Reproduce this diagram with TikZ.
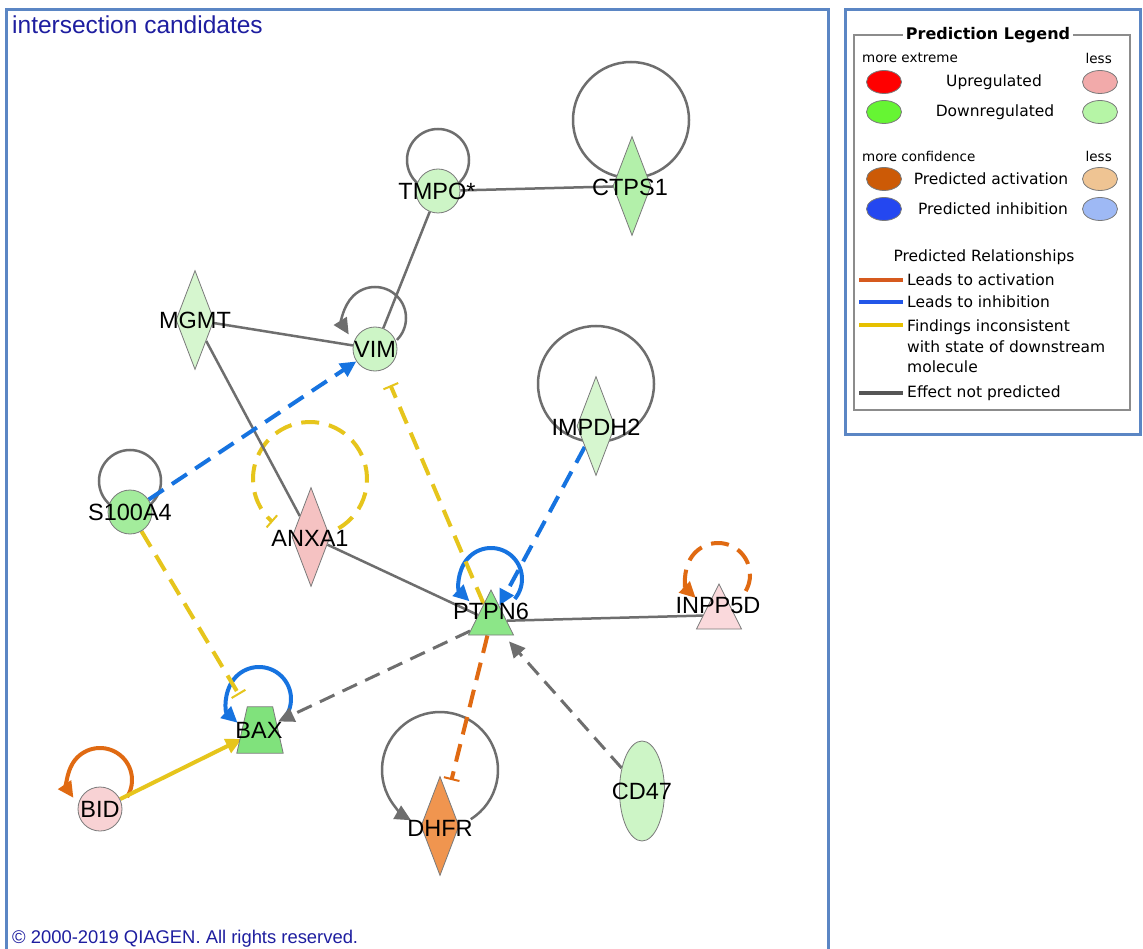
\documentclass[tikz,border=0pt]{standalone}
\usepackage{fontspec}
\setmainfont{Liberation Sans}
\newfontfamily\legendfont{DejaVu Sans}
\usetikzlibrary{shapes.geometric,arrows.meta}

\definecolor{frameblue}{HTML}{5B86C4}
\definecolor{titleblue}{HTML}{1E1EA0}
\definecolor{edgegray}{HTML}{6E6E6E}
\definecolor{nodegray}{HTML}{7A7A7A}
\definecolor{inhblue}{HTML}{1673E0}
\definecolor{incyellow}{HTML}{E6C51C}
\definecolor{actorange}{HTML}{E06A12}
\definecolor{gpale}{HTML}{CDF5C6}
\definecolor{gpaler}{HTML}{D6F6CF}
\definecolor{gmid}{HTML}{B3F0AA}
\definecolor{gs100}{HTML}{A3EC9C}
\definecolor{gbright}{HTML}{8CE688}
\definecolor{gbax}{HTML}{80E27C}
\definecolor{anxpink}{HTML}{F5C2C2}
\definecolor{bidpink}{HTML}{F8D2D4}
\definecolor{inppink}{HTML}{FAD9DC}
\definecolor{dhfrorange}{HTML}{F0954F}
% legend swatches
\definecolor{lgred}{HTML}{FF0000}
\definecolor{lgpink}{HTML}{F2AAAA}
\definecolor{lggreen}{HTML}{66F533}
\definecolor{lglgreen}{HTML}{B6F5A6}
\definecolor{lgorange}{HTML}{CC5A06}
\definecolor{lglorange}{HTML}{EFC493}
\definecolor{lgblue}{HTML}{2447F0}
\definecolor{lglblue}{HTML}{9EB9F5}
\definecolor{lgline}{HTML}{D65A1E}
\definecolor{lgbline}{HTML}{2256E8}
\definecolor{lgyline}{HTML}{E6C000}
\definecolor{lggline}{HTML}{555555}
\definecolor{boxgray}{HTML}{8C8C8C}

\pgfdeclarelayer{paper}
\pgfdeclarelayer{links}
\pgfsetlayers{paper,links,main}

\tikzset{
  gene/.style={draw=nodegray, line width=0.8pt, inner sep=0pt},
  circ/.style={gene, circle, minimum size=44pt},
  diam/.style={gene, diamond, minimum width=38pt, minimum height=99pt},
  tri/.style={gene, isosceles triangle, isosceles triangle stretches,
    shape border rotate=90, minimum width=45pt, minimum height=45pt, anchor=apex},
  trapbox/.style={rectangle, inner sep=0pt, minimum width=36pt, minimum height=46pt},
  trapline/.style={draw=nodegray, line width=0.8pt},
  oval/.style={gene, ellipse, minimum width=45pt, minimum height=100pt},
  lbl/.style={font=\fontsize{23.5}{28}\selectfont, inner sep=0pt},
  gline/.style={edgegray, line width=2.5pt},
  gdash/.style={edgegray, line width=3pt, dash pattern=on 16pt off 9pt},
  bdash/.style={inhblue, line width=4pt, dash pattern=on 18pt off 10pt},
  bsolid/.style={inhblue, line width=4pt},
  ydash/.style={incyellow, line width=4pt, dash pattern=on 18pt off 10pt},
  ysolid/.style={incyellow, line width=4pt},
  odash/.style={actorange, line width=4pt, dash pattern=on 18pt off 10pt},
  osolid/.style={actorange, line width=4pt},
  tip/.style={-{Triangle[length=16pt,width=15pt]}},
  tee/.style={-{Bar[width=16pt,line width=2pt]}},
  lgtext/.style={font=\legendfont\fontsize{15.5}{20.5}\selectfont, inner sep=0pt},
  lgsmall/.style={font=\legendfont\fontsize{13.5}{16}\selectfont, inner sep=0pt},
  swatch/.style={ellipse, draw=nodegray, line width=0.8pt, minimum width=35pt, minimum height=23pt, inner sep=0pt},
}

\begin{document}
\begin{tikzpicture}[x=1pt,y=-1pt]
\useasboundingbox (0,0) rectangle (1143,949);
\begin{pgfonlayer}{paper}
  \fill[white] (0,0) rectangle (1143,949);
\end{pgfonlayer}

% frames
\draw[frameblue, line width=3pt] (6.5,960) -- (6.5,9.5) -- (828.5,9.5) -- (828.5,960);
\draw[frameblue, line width=3pt] (845.5,9.5) rectangle (1140.5,434.5);

% header and footer
\node[anchor=base west, inner sep=0pt, text=titleblue, font=\fontsize{24.5}{29}\selectfont] (title) at (12,34) {intersection candidates};
\node[anchor=base west, inner sep=0pt, text=titleblue, font=\fontsize{18.4}{22}\selectfont] (copy) at (12,943) {© 2000-2019 QIAGEN. All rights reserved.};

% molecules
\node[circ, fill=gpale] (tmpo) at (438,191) {};
\node[diam, fill=gmid] (ctps1) at (632,186) {};
\node[circ, fill=gpale] (vim) at (375,349) {};
\node[diam, fill=gpaler] (mgmt) at (195,320) {};
\node[diam, fill=anxpink] (anxa1) at (311,537) {};
\node[diam, fill=gpaler] (impdh2) at (596,426) {};
\node[circ, fill=gs100] (s100a4) at (130,512) {};
\node[tri, fill=gbright] (ptpn6) at (491,589) {};
\node[tri, fill=inppink] (inpp5d) at (719,583) {};
\node[trapbox] (bax) at (260,730) {};
\filldraw[trapline, fill=gbax] ([xshift=5.5pt]bax.north west) -- ([xshift=-5.5pt]bax.north east)
  -- ([xshift=5pt]bax.south east) -- ([xshift=-5pt]bax.south west) -- cycle;
\node[circ, fill=bidpink] (bid) at (100,809) {};
\node[diam, fill=dhfrorange] (dhfr) at (440,826) {};
\node[oval, fill=gpale] (cd47) at (642,791) {};

% loop centres
\coordinate (tmpo-c) at (438,160);
\coordinate (ctps1-c) at (631,120);
\coordinate (impdh2-c) at (596,384);
\coordinate (s100a4-c) at (130,481);
\coordinate (vim-c) at (375,318);
\coordinate (anxa1-c) at (310,479);
\coordinate (ptpn6-c) at (491,579);
\coordinate (inpp5d-c) at (718,575);
\coordinate (bax-c) at (259,699);
\coordinate (bid-c) at (100,780);
\coordinate (dhfr-c) at (440,770);

\begin{pgfonlayer}{links}
  % self relations
  \draw[gline] (tmpo-c) circle[radius=31];
  \draw[gline] (ctps1-c) circle[radius=58];
  \draw[gline] (impdh2-c) circle[radius=58];
  \draw[gline] (s100a4-c) circle[radius=31];
  \draw[gline, tip] ([shift={(vim-c)}]45:31) arc[start angle=45, end angle=-212, radius=31];
  \draw[ydash, tee] ([shift={(anxa1-c)}]60:57) arc[start angle=60, end angle=-229, radius=57];
  \draw[bsolid, tip] ([shift={(ptpn6-c)}]40:31) arc[start angle=40, end angle=-226, radius=31];
  \draw[odash, tip] ([shift={(inpp5d-c)}]30:32) arc[start angle=30, end angle=-226, radius=32];
  \draw[bsolid, tip] ([shift={(bax-c)}]38:32) arc[start angle=38, end angle=-228, radius=32];
  \draw[osolid, tip] ([shift={(bid-c)}]32:32) arc[start angle=32, end angle=-214, radius=32];
  \draw[gline, tip] ([shift={(dhfr-c)}]58:58) arc[start angle=58, end angle=-240, radius=58];

  % relations between molecules
  \draw[gline] (tmpo) -- (ctps1);
  \draw[gline] (tmpo) -- (vim);
  \draw[gline] (mgmt) -- (vim);
  \draw[gline] (mgmt) -- (anxa1);
  \draw[gline] (anxa1) -- (ptpn6);
  \draw[gline] (ptpn6) -- (inpp5d);
  \draw[bdash, tip] (s100a4) -- (vim);
  \draw[bdash, tip] (impdh2) -- (ptpn6);
  \draw[ydash, tee, shorten >=17pt] (ptpn6) -- (vim);
  \draw[ydash, tee, shorten >=14pt] (s100a4) -- (bax);
  \draw[gdash, tip] (ptpn6) -- (bax);
  \draw[ysolid, tip] (bid) -- (bax);
  \draw[odash, tee, shorten >=16pt] (ptpn6) -- (dhfr);
  \draw[gdash, tip, shorten >=8pt] (cd47) -- (ptpn6);
\end{pgfonlayer}

% molecule names
\node[lbl] (tmpo-l) at (437,191) {TMPO*};
\node[lbl] (ctps1-l) at (630,187) {CTPS1};
\node[lbl] (vim-l) at (375,349) {VIM};
\node[lbl] (mgmt-l) at (195,320) {MGMT};
\node[lbl] (anxa1-l) at (310,538) {ANXA1};
\node[lbl] (impdh2-l) at (596,427) {IMPDH2};
\node[lbl] (s100a4-l) at (130,512) {S100A4};
\node[lbl] (ptpn6-l) at (491,611) {PTPN6};
\node[lbl] (inpp5d-l) at (718,606) {INPP5D};
\node[lbl] (bax-l) at (259,730) {BAX};
\node[lbl] (bid-l) at (100,809) {BID};
\node[lbl] (dhfr-l) at (440,828) {DHFR};
\node[lbl] (cd47-l) at (642,791) {CD47};

% legend
\draw[boxgray, line width=1.2pt] (854,35) rectangle (1130,410);
\node[fill=white, inner sep=3pt, font=\legendfont\bfseries\fontsize{16}{19}\selectfont] (lg-title) at (988,35) {Prediction Legend};
\node[lgsmall, anchor=west] (lg-ext) at (862,58) {more extreme};
\node[lgsmall, anchor=east] (lg-less1) at (1112,58) {less};
\node[swatch, fill=lgred] (sw1) at (884,82) {};
\node[swatch, fill=lgpink] (sw2) at (1100,82) {};
\node[lgtext] (lg-up) at (994,82) {Upregulated};
\node[swatch, fill=lggreen] (sw3) at (884,112) {};
\node[swatch, fill=lglgreen] (sw4) at (1100,112) {};
\node[lgtext] (lg-down) at (995,112) {Downregulated};
\node[lgsmall, anchor=west] (lg-conf) at (862,156) {more confidence};
\node[lgsmall, anchor=east] (lg-less2) at (1112,156) {less};
\node[swatch, fill=lgorange] (sw5) at (884,179) {};
\node[swatch, fill=lglorange] (sw6) at (1100,179) {};
\node[lgtext] (lg-act) at (991,179) {Predicted activation};
\node[swatch, fill=lgblue] (sw7) at (884,209) {};
\node[swatch, fill=lglblue] (sw8) at (1100,209) {};
\node[lgtext] (lg-inh) at (993,209) {Predicted inhibition};
\node[lgtext] (lg-rel) at (984,257) {Predicted Relationships};
\coordinate (k1a) at (859,280); \coordinate (k1b) at (903,280);
\coordinate (k2a) at (859,302); \coordinate (k2b) at (903,302);
\coordinate (k3a) at (859,325); \coordinate (k3b) at (903,325);
\coordinate (k4a) at (859,393); \coordinate (k4b) at (903,393);
\draw[lgline, line width=4pt] (k1a) -- (k1b);
\draw[lgbline, line width=4pt] (k2a) -- (k2b);
\draw[lgyline, line width=4pt] (k3a) -- (k3b);
\draw[lggline, line width=4pt] (k4a) -- (k4b);
\node[lgtext, anchor=west] (lg-l1) at (907,280) {Leads to activation};
\node[lgtext, anchor=west] (lg-l2) at (907,302) {Leads to inhibition};
\node[lgtext, anchor=north west, align=left] (lg-l3) at (907,320) {Findings inconsistent\\with state of downstream\\molecule};
\node[lgtext, anchor=west] (lg-l4) at (907,393) {Effect not predicted};
\end{tikzpicture}
\end{document}
